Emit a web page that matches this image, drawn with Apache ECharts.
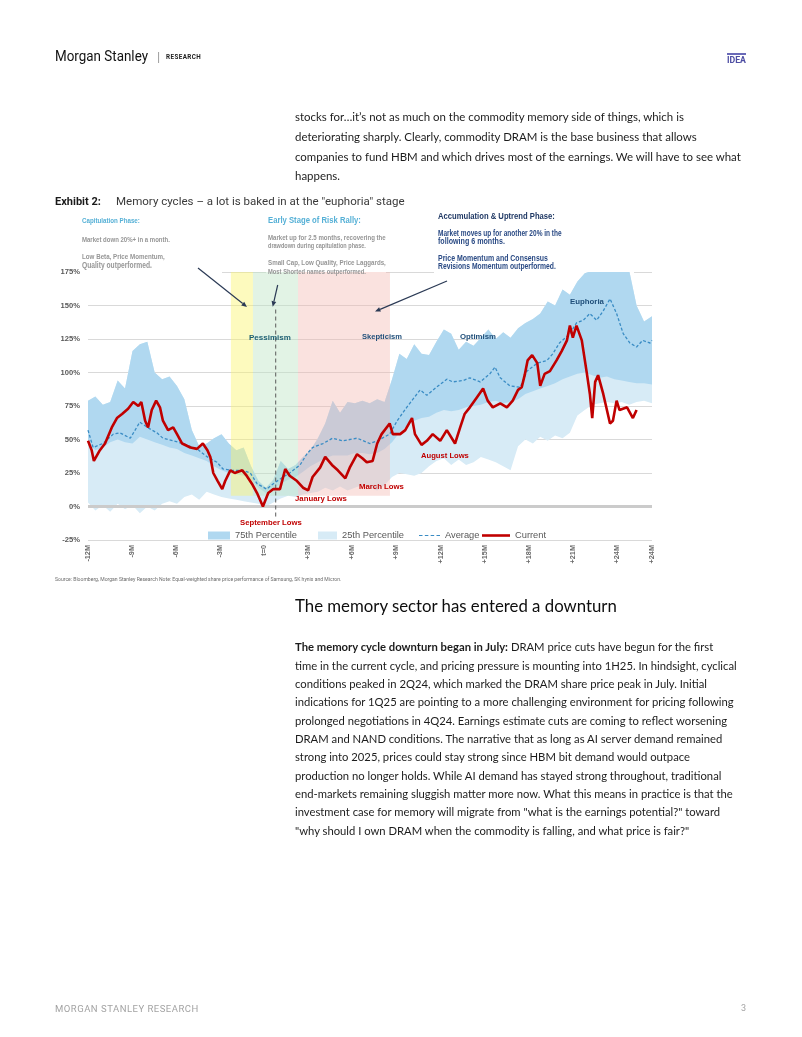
<!DOCTYPE html>
<html>
<head>
<meta charset="utf-8">
<title>Memory cycles</title>
<script src="https://cdn.jsdelivr.net/npm/echarts@6/dist/echarts.min.js"></script>
<style>
  html,body{margin:0;padding:0;background:#ffffff;}
  #page{position:relative;width:802px;height:1037px;overflow:hidden;background:#fff;}
  #chart{position:absolute;left:0;top:0;width:802px;height:1037px;}
  .t{position:absolute;white-space:nowrap;line-height:1;z-index:2;}
  .body{font-family:Lato,"Noto Sans",sans-serif;color:#1c1c1c;}
  .rob{font-family:Roboto,"Liberation Sans",sans-serif;}
</style>
</head>
<body>
<div id="page">
  <div id="chart"></div>

  <div class="t" data-x="55" data-cy="58" data-w="93" data-mode="scale" data-fs="15" style="font-family:'Liberation Sans Narrow',Roboto,sans-serif;color:#111;">Morgan Stanley</div>
  <div class="t" data-x="157" data-cy="58" data-fs="13" style="font-family:Roboto,sans-serif;color:#9a9a9a;">|</div>
  <div class="t" data-x="166" data-cy="58" data-w="33" style="font-family:Roboto,sans-serif;font-weight:bold;color:#222;letter-spacing:0.4px;">RESEARCH</div>
  <div class="t" data-x="727" data-cy="58.5" data-w="19" style="font-family:'Liberation Sans Narrow',Roboto,sans-serif;font-weight:bold;color:#4e4ea3;border-top:2px solid #6a6ab8;padding-top:1px;">IDEA</div>

  <div class="t body" data-x="295" data-cy="118" data-group="p1" data-ref="1" data-w="389">stocks for…it’s not as much on the commodity memory side of things, which is</div>
  <div class="t body" data-x="295" data-cy="138" data-group="p1">deteriorating sharply. Clearly, commodity DRAM is the base business that allows</div>
  <div class="t body" data-x="295" data-cy="157.7" data-group="p1">companies to fund HBM and which drives most of the earnings. We will have to see what</div>
  <div class="t body" data-x="295" data-cy="177.5" data-group="p1">happens.</div>

  <div class="t rob" data-x="55" data-cy="203" data-w="46" style="font-weight:bold;color:#1a1a1a;">Exhibit 2:</div>
  <div class="t rob" data-x="116" data-cy="203" data-w="289" style="color:#3a3a3a;">Memory cycles – a lot is baked in at the "euphoria" stage</div>

  <div class="t rob" data-x="55" data-cy="580.5" data-w="287" style="color:#6b6b6b;">Source: Bloomberg, Morgan Stanley Research Note: Equal-weighted share price performance of Samsung, SK hynix and Micron.</div>

  <div class="t body" data-x="295" data-cy="608" data-w="322" style="color:#0d0d0d;">The memory sector has entered a downturn</div>

  <div class="t body" data-x="295" data-cy="648.3" data-group="p2"><b>The memory cycle downturn began in July:</b> DRAM price cuts have begun for the first</div>
  <div class="t body" data-x="295" data-cy="666.6" data-group="p2" data-ref="1" data-w="442">time in the current cycle, and pricing pressure is mounting into 1H25. In hindsight, cyclical</div>
  <div class="t body" data-x="295" data-cy="685" data-group="p2">conditions peaked in 2Q24, which marked the DRAM share price peak in July. Initial</div>
  <div class="t body" data-x="295" data-cy="703.3" data-group="p2">indications for 1Q25 are pointing to a more challenging environment for pricing following</div>
  <div class="t body" data-x="295" data-cy="721.6" data-group="p2">prolonged negotiations in 4Q24. Earnings estimate cuts are coming to reflect worsening</div>
  <div class="t body" data-x="295" data-cy="740" data-group="p2">DRAM and NAND conditions. The narrative that as long as AI server demand remained</div>
  <div class="t body" data-x="295" data-cy="758.3" data-group="p2">strong into 2025, prices could stay strong since HBM bit demand would outpace</div>
  <div class="t body" data-x="295" data-cy="776.6" data-group="p2">production no longer holds. While AI demand has stayed strong throughout, traditional</div>
  <div class="t body" data-x="295" data-cy="795" data-group="p2">end-markets remaining sluggish matter more now. What this means in practice is that the</div>
  <div class="t body" data-x="295" data-cy="813.3" data-group="p2">investment case for memory will migrate from "what is the earnings potential?" toward</div>
  <div class="t body" data-x="295" data-cy="831.6" data-group="p2">"why should I own DRAM when the commodity is falling, and what price is fair?"</div>

  <div class="t rob" data-x="55" data-cy="1010" data-w="138" style="color:#a3a3a3;letter-spacing:0.5px;">MORGAN STANLEY RESEARCH</div>
  <div class="t rob" data-x="741" data-cy="1010" data-fs="9" style="color:#a3a3a3;">3</div>
</div>

<script>
// ---------------- DATA ----------------
// months relative to t=0 (the September low)
const bandMonths = [
  -12.00,-11.50,-10.99,-10.49,-9.98,-9.48,-8.97,-8.47,-7.96,-7.46,
  -6.95,-6.45,-5.94,-5.44,-4.93,-4.43,-3.92,-3.42,-2.91,-2.41,
  -1.90,-1.40,-0.90,-0.39,0.11,0.62,1.12,1.63,2.13,2.64,
  3.14,3.65,4.15,4.66,5.16,5.67,6.17,6.68,7.18,7.69,
  8.19,8.70,9.20,9.70,10.21,10.71,11.22,11.72,12.23,12.73,
  13.24,13.74,14.25,14.75,15.26,15.76,16.27,16.77,17.28,17.78,
  18.29,18.79,19.30,19.80,20.31,20.81,21.32,21.82,22.33,22.83,
  23.33,23.84,24.34,24.85,25.35,25.86,26.40
];
// upper edge of the shaded range (75th percentile)
const pct75 = [
  79,82,76,78,94,88,116,121,123,100,
  95,97,90,80,57,45,47,51,54,47,
  42,44,30,19,14,20,34,28,31,37,
  42,51,62,79,70,78,77,79,77,80,
  78,95,114,110,121,114,113,123,132,129,
  117,123,120,126,132,125,130,126,133,137,
  140,144,153,150,162,158,168,174,176,176,
  176,176,176,176,150,138,142
];
// boundary between the darker and lighter shading
const pctMid = [
  47,42,44,48,50,48,47,52,50,48,
  46,44,43,40,38,36,34,30,27,25,
  24,23,20,14,10,13,17,20,22,26,
  30,33,36,38,38,38,40,40,39,40,
  43,48,55,60,64,66,67,70,72,71,
  72,74,75,76,78,79,77,78,80,84,
  86,88,90,92,95,97,99,100,98,96,
  97,95,94,93,92,92,91
];
// lower edge of the shaded range (25th percentile)
const pct25 = [
  3,-3,1,-4,2,-2,1,-5,0,-3,
  2,4,2,7,9,5,11,9,7,6,
  5,4,3,2,0,3,6,8,7,9,
  10,11,14,12,15,12,14,16,14,12,
  16,22,25,24,23,25,30,34,36,31,
  35,31,33,37,35,33,30,27,45,50,
  47,52,49,53,51,55,68,72,76,77,
  78,77,78,76,78,79,77
];

const currentMonths = [
  -12.00,-11.75,-11.60,-11.19,-10.84,-10.38,-10.03,-9.68,-9.27,-8.92,
  -8.57,-8.37,-8.11,-7.91,-7.66,-7.36,-7.10,-6.90,-6.55,-6.20,
  -5.94,-5.59,-5.03,-4.58,-4.18,-3.87,-3.67,-3.47,-3.17,-2.86,
  -2.66,-2.31,-2.01,-1.50,-1.20,-0.84,-0.49,-0.09,0.27,0.62,
  1.07,1.43,1.73,2.23,2.64,2.99,3.29,3.80,4.15,4.61,
  5.01,5.52,5.82,6.32,6.68,6.98,7.38,7.69,7.99,8.54,
  8.75,9.25,9.60,10.06,10.26,10.71,11.07,11.47,11.98,12.43,
  12.99,13.34,13.64,14.00,14.45,14.90,15.21,15.56,16.07,16.52,
  16.92,17.28,17.53,17.73,17.93,18.24,18.59,18.79,19.09,19.45,
  19.90,20.25,20.61,20.81,21.01,21.26,21.62,21.97,22.17,22.33,
  22.53,22.73,23.08,23.33,23.54,23.74,23.99,24.19,24.70,25.10,
  25.35
];
const currentValues = [
  49,42,34,42,47,59,66,69,73,78,
  75,78,64,59,72,79,74,64,57,59,
  54,47,44,43,47,42,37,25,19,13,
  19,27,25,27,23,17,10,0,10,13,
  13,28,23,19,14,12,22,29,37,31,
  27,21,29,39,36,33,34,47,54,62,
  54,54,57,66,54,46,49,54,49,57,
  47,59,69,74,81,88,79,74,77,74,
  79,87,89,98,109,113,107,90,99,101,
  109,116,124,135,126,135,124,99,84,66,
  93,98,84,72,62,64,79,72,74,66,
  72
];

const averageMonths = [
  -12.00,-11.65,-10.99,-10.28,-9.83,-9.12,-8.47,-7.96,-7.31,-6.90,
  -6.20,-5.54,-4.58,-3.87,-3.22,-2.81,-2.21,-1.45,-0.95,-0.49,
  0.16,0.62,1.28,1.73,2.44,2.89,3.29,4.00,4.66,5.36,
  6.32,7.18,7.69,8.54,9.05,9.70,9.91,10.61,11.07,11.72,
  12.43,12.83,13.54,14.00,14.70,15.36,15.71,16.07,16.72,17.43,
  17.88,18.59,19.25,19.65,20.10,20.81,21.26,21.72,22.17,22.63,
  23.08,23.54,23.99,24.44,24.90,25.35,25.76,26.26,26.40
];
const averageValues = [
  57,44,47,54,55,51,63,59,55,51,
  49,47,43,37,33,28,27,27,25,17,
  13,17,22,25,31,39,44,47,51,49,
  51,47,49,54,64,74,77,87,83,89,
  95,93,94,96,93,99,104,96,90,89,
  101,107,109,114,122,129,137,139,144,139,
  146,155,144,129,122,119,124,122,124
];

// phase bands (start month, end month) and the trough marker
const phaseStart = [-2.27, -0.77, 2.30];
const phaseEnd = [-0.77, 2.30, 8.56];
const phaseTop = 175, phaseBottom = 8;
const troughMonth = 0.78;
const troughRange = [147, -8];

const xTickMonths = [-12, -9, -6, -3, 0, 3, 6, 9, 12, 15, 18, 21, 24, 26.4];
const xTickLabels = ['-12M', '-9M', '-6M', '-3M', 't=0', '+3M', '+6M', '+9M', '+12M', '+15M', '+18M', '+21M', '+24M', '+24M'];
const xMin = -12, xMax = 26.4, yMin = -25, yMax = 175, yStep = 25;

// ---------------- PAGE TEXT LAYOUT ----------------
(function layoutText() {
  const els = Array.from(document.querySelectorAll('.t'));
  function fit(el, target) {
    el.style.fontSize = '20px';
    const w = el.getBoundingClientRect().width;
    return 20 * target / w;
  }
  const groupFs = {};
  els.filter(e => e.dataset.ref).forEach(e => { groupFs[e.dataset.group] = fit(e, +e.dataset.w); });
  els.forEach(e => {
    let fs;
    if (e.dataset.group) fs = groupFs[e.dataset.group];
    else if (e.dataset.w && e.dataset.mode !== 'scale') fs = fit(e, +e.dataset.w);
    else fs = parseFloat(e.dataset.fs);
    e.style.fontSize = fs + 'px';
    if (e.dataset.mode === 'scale') {
      const w = e.getBoundingClientRect().width;
      e.style.transformOrigin = '0 0';
      e.style.transform = 'scaleX(' + (+e.dataset.w / w) + ')';
    }
    e.style.left = e.dataset.x + 'px';
    e.style.top = (+e.dataset.cy - 0.62 * fs) + 'px';
  });
})();

// ---------------- CHART ----------------
const chart = echarts.init(document.getElementById('chart'), null, { renderer: 'canvas' });
const pairs = (xs, ys) => xs.map((x, i) => [x, ys[i]]);

const FONT = '"Liberation Sans", Arial, sans-serif';
const mctx = document.createElement('canvas').getContext('2d');
function sizeFor(text, weight, target) {
  mctx.font = weight + ' 20px ' + FONT;
  return 20 * target / mctx.measureText(text).width;
}
// condense: text is drawn taller and squeezed horizontally (a narrow face)
const styles = {
  capT: { fill: '#55b0d6', condense: 0.8 }, grey: { fill: '#969696', condense: 0.8 },
  navyT: { fill: '#1f3864', condense: 0.85 }, navy: { fill: '#2a4a84', condense: 0.8 },
  pess: { fill: '#1b5e72', condense: 1 }, stage: { fill: '#1f4e79', condense: 1 }, red: { fill: '#c00000', condense: 1 }
};
// [left x, centre y, text, style, target width] — annotation layout in page pixels
const notes = [
  [82, 220.7, 'Capitulation Phase:', 'capT', 58],
  [82, 239.5, 'Market down 20%+ in a month.', 'grey', 88],
  [82, 257, 'Low Beta, Price Momentum,', 'grey', 83],
  [82, 266, 'Quality outperformed.', 'grey', 70],
  [268, 220, 'Early Stage of Risk Rally:', 'capT', 93],
  [268, 237.5, 'Market up for 2.5 months, recovering the', 'grey', 118],
  [268, 246, 'drawdown during capitulation phase.', 'grey', 98],
  [268, 263.3, 'Small Cap, Low Quality, Price Laggards,', 'grey', 118],
  [268, 271.7, 'Most Shorted names outperformed.', 'grey', 98],
  [438, 216.7, 'Accumulation & Uptrend Phase:', 'navyT', 117],
  [438, 233.3, 'Market moves up for another 20% in the', 'navy', 124],
  [438, 241.7, 'following 6 months.', 'navy', 67],
  [438, 258.3, 'Price Momentum and Consensus', 'navy', 110],
  [438, 266.7, 'Revisions Momentum outperformed.', 'navy', 118],
  [249, 337.3, 'Pessimism', 'pess', 42],
  [362, 337.3, 'Skepticism', 'stage', 40],
  [460, 337.3, 'Optimism', 'stage', 36],
  [570, 302.3, 'Euphoria', 'stage', 34],
  [240, 522.7, 'September Lows', 'red', 62],
  [295, 499.3, 'January Lows', 'red', 52],
  [359, 487.3, 'March Lows', 'red', 45],
  [421, 456, 'August Lows', 'red', 48]
];
const graphics = [];
[[80, 207, 142, 66.5], [266, 207, 120, 66.5], [434, 205, 200, 68]].forEach(b => {
  graphics.push({ type: 'rect', z: 1, silent: true, shape: { x: b[0], y: b[1], width: b[2], height: b[3] }, style: { fill: '#ffffff' } });
});
notes.forEach(n => {
  const st = styles[n[3]];
  const fs = sizeFor(n[2], 'bold', n[4]) / st.condense;
  graphics.push({
    type: 'text', x: n[0], y: n[1], z: 100, silent: true, scaleX: st.condense,
    style: {
      text: n[2], fontFamily: FONT, fontWeight: 'bold', fontSize: fs,
      align: 'left', verticalAlign: 'middle', fill: st.fill
    }
  });
});
function arrow(x1, y1, x2, y2) {
  const a = Math.atan2(y2 - y1, x2 - x1), L = 5.5, W = 2.4;
  const bx = x2 - L * Math.cos(a), by = y2 - L * Math.sin(a);
  const px = -Math.sin(a) * W, py = Math.cos(a) * W;
  graphics.push({ type: 'line', z: 100, silent: true, shape: { x1: x1, y1: y1, x2: bx, y2: by }, style: { stroke: '#2b3a55', lineWidth: 1.2 } });
  graphics.push({ type: 'polygon', z: 100, silent: true, shape: { points: [[x2, y2], [bx + px, by + py], [bx - px, by - py]] }, style: { fill: '#2b3a55' } });
}
arrow(198, 268, 247, 307);
arrow(277.7, 285, 272.7, 306.7);
arrow(447, 281, 375, 311.5);

const phaseColors = ['rgba(250,244,110,0.45)', 'rgba(190,228,198,0.45)', 'rgba(242,182,174,0.40)'];

// band polygon between two value arrays, drawn through the axis scales
function bandRenderer(lowArr, highArr, color) {
  return (params, api) => {
    if (params.dataIndex !== 0) return null;
    const pts = [];
    for (let i = 0; i < bandMonths.length; i++) pts.push(api.coord([bandMonths[i], highArr[i]]));
    for (let i = bandMonths.length - 1; i >= 0; i--) pts.push(api.coord([bandMonths[i], lowArr[i]]));
    return { type: 'polygon', shape: { points: pts }, style: { fill: color } };
  };
}
const bandData = bandMonths.map((m, i) => [m, pct25[i], pct75[i]]);
const LIGHT = '#d7ebf6', DARK = '#b0d8f0';

const legendBase = { top: 531, padding: 0, selectedMode: false, textStyle: { fontSize: 9.3, color: '#595959', fontFamily: FONT } };

const option = {
  animation: false,
  backgroundColor: 'transparent',
  textStyle: { fontFamily: FONT },
  grid: { left: 88, right: 150, top: 272, bottom: 497 },
  xAxis: {
    type: 'value', min: xMin, max: xMax,
    axisLine: { show: false }, axisTick: { show: false }, splitLine: { show: false },
    axisLabel: {
      customValues: xTickMonths,
      formatter: v => { const i = xTickMonths.findIndex(m => Math.abs(m - v) < 1e-6); return i >= 0 ? xTickLabels[i] : ''; },
      rotate: 90, fontSize: 7.3, fontWeight: 'bold', color: '#6a6a6a', margin: 5, fontFamily: FONT
    }
  },
  yAxis: {
    type: 'value', min: yMin, max: yMax, interval: yStep,
    axisLine: { show: false }, axisTick: { show: false },
    axisLabel: { formatter: '{value}%', fontSize: 7.6, fontWeight: 'bold', color: '#595959', margin: 8, fontFamily: FONT },
    splitLine: { lineStyle: { color: '#d9d9d9', width: 1 } }
  },
  legend: [
    Object.assign({ data: [{ name: '75th Percentile', icon: 'rect' }], left: 208, itemWidth: 22, itemHeight: 8 }, legendBase),
    Object.assign({ data: [{ name: '25th Percentile', icon: 'rect' }], left: 318, itemWidth: 19, itemHeight: 8 }, legendBase),
    Object.assign({ data: [{ name: 'Average', icon: 'path://M0,0h3v1h-3z M5,0h3v1h-3z M10,0h3v1h-3z M15,0h3v1h-3z' }], left: 419, itemWidth: 21, itemHeight: 1.3 }, legendBase),
    Object.assign({ data: [{ name: 'Current', icon: 'rect' }], left: 482, itemWidth: 28, itemHeight: 2.6 }, legendBase)
  ],
  series: [
    { name: '25th Percentile', type: 'custom', z: 2, silent: true, clip: true,
      itemStyle: { color: LIGHT }, data: bandData, encode: { x: 0, y: [1, 2] },
      renderItem: bandRenderer(pct25, pct75, LIGHT) },
    { name: '75th Percentile', type: 'custom', z: 2, silent: true, clip: true,
      itemStyle: { color: DARK }, data: bandData, encode: { x: 0, y: [1, 2] },
      renderItem: bandRenderer(pctMid, pct75, DARK) },
    { name: 'phases', type: 'custom', z: 3, silent: true,
      data: phaseStart.map((s, i) => [s, phaseEnd[i], phaseTop, phaseBottom]),
      encode: { x: [0, 1], y: [2, 3] },
      renderItem: (params, api) => {
        const p1 = api.coord([api.value(0), api.value(2)]);
        const p2 = api.coord([api.value(1), api.value(3)]);
        return { type: 'rect', shape: { x: p1[0], y: p1[1], width: p2[0] - p1[0], height: p2[1] - p1[1] },
                 style: { fill: phaseColors[params.dataIndex] } };
      } },
    { name: 'zero', type: 'line', data: [[xMin, 0], [xMax, 0]], symbol: 'none', silent: true,
      lineStyle: { color: '#cbcbcb', width: 3 }, z: 4 },
    { name: 'trough', type: 'line', data: [[troughMonth, troughRange[0]], [troughMonth, troughRange[1]]], symbol: 'none', silent: true,
      lineStyle: { color: '#5a5a5a', width: 1, type: [4, 3] }, z: 4 },
    { name: 'Average', type: 'line', data: pairs(averageMonths, averageValues), symbol: 'none',
      itemStyle: { color: '#3a8cc4' }, lineStyle: { color: '#3a8cc4', width: 1.3, type: [3, 2] }, z: 5 },
    { name: 'Current', type: 'line', data: pairs(currentMonths, currentValues), symbol: 'none',
      itemStyle: { color: '#c00000' }, lineStyle: { color: '#c00000', width: 2.6 }, z: 6 }
  ],
  graphic: graphics
};
chart.setOption(option);
</script>
</body>
</html>
